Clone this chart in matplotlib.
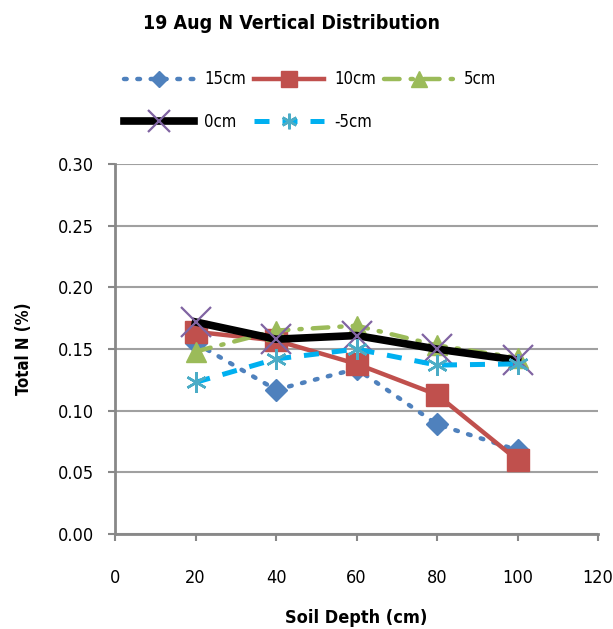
import matplotlib
matplotlib.use("Agg")
import matplotlib.pyplot as plt

# Soil depth (cm) and total N (%) per sensor height
depth = [20, 40, 60, 80, 100]
n_15cm = [0.155, 0.117, 0.134, 0.089, 0.068]
n_10cm = [0.164, 0.157, 0.138, 0.113, 0.060]
n_5cm = [0.148, 0.165, 0.169, 0.153, 0.143]
n_0cm = [0.172, 0.158, 0.161, 0.150, 0.141]
n_m5cm = [0.123, 0.142, 0.150, 0.137, 0.138]

y_ticks = [0.00, 0.05, 0.10, 0.15, 0.20, 0.25, 0.30]
x_ticks = [0, 20, 40, 60, 80, 100, 120]

plt.rcParams["font.family"] = ["DejaVu Sans"]
plt.rcParams["font.stretch"] = "condensed"

fig = plt.figure(figsize=(6.13, 6.29), dpi=100)
ax = fig.add_axes([0.1876, 0.151, 0.788, 0.588])

l15, = ax.plot(depth, n_15cm, color="#4F81BD", linestyle=(0, (0.6, 2.4)),
               linewidth=3.2, dash_capstyle="round", marker="D", markersize=11.5,
               label="15cm")
l10, = ax.plot(depth, n_10cm, color="#C0504D", linewidth=3.2, marker="s",
               markersize=15.5, label="10cm")
l5, = ax.plot(depth, n_5cm, color="#9BBB59", linestyle=(0, (3.5, 2.5, 0.5, 2.5)),
              linewidth=3.2, dash_capstyle="round", marker="^", markersize=15,
              label="5cm")
l0, = ax.plot(depth, n_0cm, color="black", linewidth=5.5, marker="x",
              markersize=22, markeredgecolor="#8064A2", markeredgewidth=1.6,
              label="0cm")
lm5, = ax.plot(depth, n_m5cm, color="#00B0F0", linestyle=(0, (3, 2.6)),
               linewidth=3.6, marker=(6, 2, 0), markersize=15,
               markeredgecolor="#4BACC6", markeredgewidth=1.8, label="-5cm")

ax.set_xlim(0, 120)
ax.set_ylim(0, 0.30)
ax.set_xticks(x_ticks)
ax.set_yticks(y_ticks)
ax.set_yticklabels([f"{v:.2f}" for v in y_ticks])
ax.tick_params(axis="both", direction="out", length=5, width=1.5, color="#888888",
               labelsize=13, pad=10)
ax.tick_params(axis="x", pad=20)
ax.grid(axis="y", color="#A0A0A0", linewidth=1.5)
ax.set_axisbelow(True)
for side in ["top", "right"]:
    ax.spines[side].set_visible(False)
for side in ["left", "bottom"]:
    ax.spines[side].set_color("#888888")
    ax.spines[side].set_linewidth(2.0)

ax.set_xlabel("Soil Depth (cm)", fontsize=13, fontweight="bold", labelpad=16)
ax.set_ylabel("Total N (%)", fontsize=12, fontweight="bold", labelpad=18)
fig.suptitle("19 Aug N Vertical Distribution", fontsize=14, fontweight="bold",
             x=0.476, y=0.978)

fig.legend(handles=[l15, l0, l10, lm5, l5], loc="upper left",
           bbox_to_anchor=(0.178, 0.912), ncol=3, frameon=False, fontsize=12,
           handlelength=4.2, columnspacing=0.5, labelspacing=1.45,
           handletextpad=0.6, markerscale=0.75)

fig.savefig("out.png", dpi=100)
